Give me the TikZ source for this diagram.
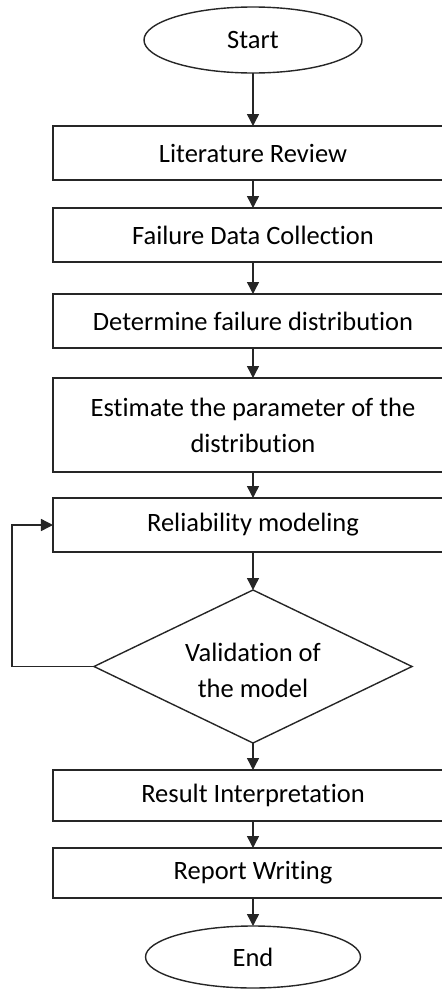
\documentclass[tikz,border=0pt]{standalone}
\usepackage{fontspec}
\setmainfont{Carlito}[Ligatures={NoCommon,NoContextual}]
\usetikzlibrary{shapes.geometric,arrows.meta}
\begin{document}
\begin{tikzpicture}[x=1bp,y=-1bp,
  every node/.style={font=\fontsize{26.5bp}{36bp}\selectfont, text=black, inner sep=0pt, outer sep=0pt},
  line/.style={draw=black!85, line width=1.4bp},
  procbox/.style={line, rectangle, minimum width=400bp, align=center},
  term/.style={line, ellipse},
  decision/.style={line, diamond, align=center},
  flow/.style={line, -{Triangle[length=12bp,width=12bp]}}
]
\useasboundingbox (0,0) rectangle (442,990);
\node[term, minimum width=218bp, minimum height=66bp] (start) at (253,40) {Start};
\node[procbox, minimum height=54bp] (lit) at (253,153) {Literature Review};
\node[procbox, minimum height=54bp] (fdc) at (253,235) {Failure Data Collection};
\node[procbox, minimum height=54bp] (det) at (253,321) {Determine failure distribution};
\node[procbox, minimum height=94bp] (est) at (253,425) {Estimate the parameter of the\\distribution};
\node[procbox, minimum height=54bp] (rel) at (253,525) {Reliability modeling};
\node[decision, minimum width=318bp, minimum height=153bp, aspect=2.08] (val) at (253,666.5) {};
\node (valtxt) at (253,670) [align=center] {Validation of\\the model};
\node[procbox, minimum height=51bp] (res) at (253,795.5) {Result Interpretation};
\node[procbox, minimum height=50bp] (rep) at (253,873) {Report Writing};
\node[term, minimum width=215bp, minimum height=62bp] (end) at (253,957) {End};
\coordinate (loopcorner) at (12,666.5);
\draw[flow] (start.south) -- (lit.north);
\draw[flow] (lit.south) -- (fdc.north);
\draw[flow] (fdc.south) -- (det.north);
\draw[flow] (det.south) -- (est.north);
\draw[flow] (est.south) -- (rel.north);
\draw[flow] (rel.south) -- (val.north);
\draw[flow] (val.south) -- (res.north);
\draw[flow] (res.south) -- (rep.north);
\draw[flow] (rep.south) -- (end.north);
\draw[flow] (val.west) -- (loopcorner) |- (rel.west);
\end{tikzpicture}
\end{document}
